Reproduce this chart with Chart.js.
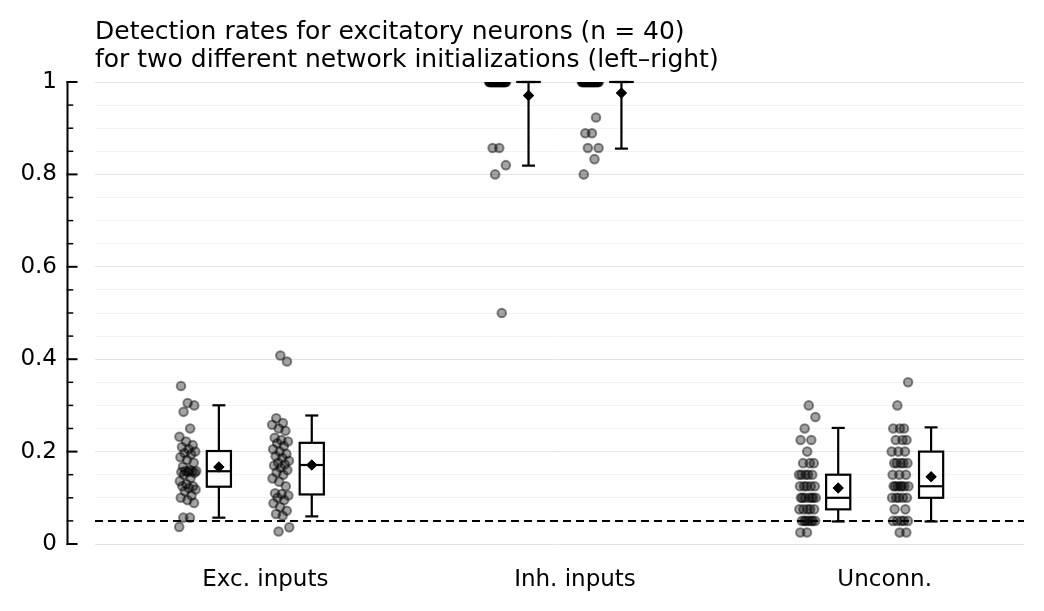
<!DOCTYPE html>
<html>
<head>
<meta charset="utf-8">
<script src="https://cdn.jsdelivr.net/npm/chart.js@4/dist/chart.umd.min.js"></script>
<style>
  html, body { margin: 0; background: #fff; }
  #wrap { width: 1044px; height: 611px; }
</style>
</head>
<body>
<div id="wrap"><canvas id="chart"></canvas></div>
<script>
// ── data ──
const categories = ['Exc. inputs', 'Inh. inputs', 'Unconn.'];
const titleLines = [
  'Detection rates for excitatory neurons (n = 40)',
  'for two different network initializations (left–right)'
];
const yTickLabels = [0, 0.2, 0.4, 0.6, 0.8, 1];
const chanceLevel = 0.05;

const excLeft = [0.037, 0.057, 0.057, 0.089, 0.095, 0.100, 0.105, 0.114, 0.118, 0.121,
  0.125, 0.125, 0.130, 0.136, 0.143, 0.150, 0.154, 0.156, 0.156, 0.157,
  0.158, 0.158, 0.160, 0.167, 0.176, 0.182, 0.188, 0.194, 0.197, 0.200,
  0.205, 0.210, 0.214, 0.222, 0.232, 0.250, 0.286, 0.300, 0.305, 0.342];
const excRight = [0.027, 0.036, 0.061, 0.065, 0.072, 0.080, 0.088, 0.095, 0.100, 0.105,
  0.108, 0.110, 0.125, 0.135, 0.142, 0.150, 0.155, 0.160, 0.165, 0.170,
  0.172, 0.176, 0.180, 0.186, 0.190, 0.195, 0.200, 0.205, 0.212, 0.218,
  0.222, 0.225, 0.230, 0.245, 0.250, 0.258, 0.262, 0.272, 0.395, 0.408];
const inhLeft = [0.500, 0.800, 0.820, 0.857, 0.857,
  1, 1, 1, 1, 1, 1, 1, 1, 1, 1, 1, 1, 1, 1, 1, 1, 1, 1,
  1, 1, 1, 1, 1, 1, 1, 1, 1, 1, 1, 1, 1, 1, 1, 1, 1];
const inhRight = [0.800, 0.833, 0.857, 0.857, 0.889, 0.889, 0.923,
  1, 1, 1, 1, 1, 1, 1, 1, 1, 1, 1, 1, 1, 1, 1, 1, 1,
  1, 1, 1, 1, 1, 1, 1, 1, 1, 1, 1, 1, 1, 1, 1, 1];
const unconnLeft = [0.025, 0.025,
  0.05, 0.05, 0.05, 0.05, 0.05, 0.05, 0.05,
  0.075, 0.075, 0.075, 0.075, 0.075,
  0.1, 0.1, 0.1, 0.1, 0.1, 0.1, 0.1,
  0.125, 0.125, 0.125, 0.125, 0.125,
  0.15, 0.15, 0.15, 0.15, 0.15,
  0.175, 0.175, 0.175, 0.2, 0.225, 0.225, 0.25, 0.275, 0.3];
const unconnRight = [0.025, 0.025,
  0.05, 0.05, 0.05, 0.05, 0.05,
  0.075, 0.075,
  0.1, 0.1, 0.1, 0.1, 0.1,
  0.125, 0.125, 0.125, 0.125, 0.125, 0.125, 0.125,
  0.15, 0.15, 0.15,
  0.175, 0.175, 0.175, 0.175, 0.175,
  0.2, 0.2, 0.2, 0.225, 0.225, 0.225,
  0.25, 0.25, 0.25, 0.3, 0.35];

// ── layout of the groups (x in category units) ──
const stripOffset = [-0.25, 0.05];
const boxOffset = [-0.15, 0.15];
const jitterWidth = 0.028;
const boxWidth = 0.078;
const capWidth = 0.042;

const groups = [
  { values: excLeft, cat: 0, side: 0 },
  { values: excRight, cat: 0, side: 1 },
  { values: inhLeft, cat: 1, side: 0 },
  { values: inhRight, cat: 1, side: 1 },
  { values: unconnLeft, cat: 2, side: 0 },
  { values: unconnRight, cat: 2, side: 1 }
];

const FONT = 'DejaVu Sans';

function quantile(sorted, q) {
  const pos = (sorted.length - 1) * q;
  const lo = Math.floor(pos), hi = Math.ceil(pos);
  return sorted[lo] + (sorted[hi] - sorted[lo]) * (pos - lo);
}
function stats(values) {
  const s = [...values].sort((a, b) => a - b);
  return {
    p5: quantile(s, 0.05), q1: quantile(s, 0.25), med: quantile(s, 0.5),
    q3: quantile(s, 0.75), p95: quantile(s, 0.95),
    mean: s.reduce((a, b) => a + b, 0) / s.length
  };
}
// deterministic spread so points don't sit on one column
function jitter(i, seed) {
  const f = (i * 0.6180339887 + seed * 0.371) % 1;
  return (f * 2 - 1) * jitterWidth;
}
const isMajor = v => yTickLabels.some(t => Math.abs(t - v) < 1e-6);

const stripSets = groups.map((g, gi) => ({
  type: 'scatter',
  data: g.values.map((v, i) => ({ x: g.cat + stripOffset[g.side] + jitter(i, gi), y: v })),
  backgroundColor: 'rgba(0,0,0,0.36)',
  borderColor: 'rgba(0,0,0,0.45)',
  borderWidth: 2,
  pointRadius: 4.3,
  order: 2
}));

const meanSet = {
  type: 'scatter',
  data: groups.map(g => ({ x: g.cat + boxOffset[g.side], y: stats(g.values).mean })),
  pointStyle: 'rectRot',
  pointRadius: 5.5,
  backgroundColor: '#000',
  borderColor: '#000',
  borderWidth: 0,
  order: 0
};

const chanceSet = {
  type: 'line',
  data: [{ x: -0.55, y: chanceLevel }, { x: 2.45, y: chanceLevel }],
  borderColor: '#000',
  borderWidth: 2,
  borderDash: [8, 5],
  pointRadius: 0,
  order: 3
};

// box + whiskers drawn through the scales
const boxPlugin = {
  id: 'boxes',
  afterDatasetsDraw(chart) {
    const { ctx, scales: { x, y } } = chart;
    ctx.save();
    ctx.strokeStyle = '#000';
    ctx.lineWidth = 2.2;
    const seg = (x1, y1, x2, y2) => { ctx.beginPath(); ctx.moveTo(x1, y1); ctx.lineTo(x2, y2); ctx.stroke(); };
    groups.forEach(g => {
      const s = stats(g.values);
      const bx = g.cat + boxOffset[g.side];
      const cx = x.getPixelForValue(bx);
      const bl = x.getPixelForValue(bx - boxWidth / 2), br = x.getPixelForValue(bx + boxWidth / 2);
      const cl = x.getPixelForValue(bx - capWidth / 2), cr = x.getPixelForValue(bx + capWidth / 2);
      const yq1 = y.getPixelForValue(s.q1), yq3 = y.getPixelForValue(s.q3);
      const yLo = y.getPixelForValue(s.p5), yHi = y.getPixelForValue(s.p95);
      seg(cx, yHi, cx, yq3);
      seg(cx, yq1, cx, yLo);
      seg(cl, yHi, cr, yHi);
      seg(cl, yLo, cr, yLo);
      ctx.strokeRect(bl, yq3, br - bl, yq1 - yq3);
      const ym = y.getPixelForValue(s.med);
      seg(bl, ym, br, ym);
    });
    // mean markers on top of the boxes
    const meta = chart.getDatasetMeta(0);
    meta.data.forEach(p => p.draw(ctx, chart.chartArea));
    ctx.restore();
  }
};

// offset left spine with inward ticks
const spinePlugin = {
  id: 'spine',
  afterDraw(chart) {
    const { ctx, chartArea, scales: { y } } = chart;
    const sx = chartArea.left - 27.5;
    ctx.save();
    ctx.strokeStyle = '#000';
    ctx.lineWidth = 2;
    ctx.lineCap = 'square';
    ctx.beginPath();
    ctx.moveTo(sx, y.getPixelForValue(y.max));
    ctx.lineTo(sx, y.getPixelForValue(y.min));
    ctx.stroke();
    y.ticks.forEach(t => {
      const py = y.getPixelForValue(t.value);
      const len = isMajor(t.value) ? 9 : 5;
      ctx.lineWidth = isMajor(t.value) ? 2 : 1.5;
      ctx.beginPath();
      ctx.moveTo(sx, py);
      ctx.lineTo(sx + len, py);
      ctx.stroke();
    });
    ctx.restore();
  }
};

new Chart(document.getElementById('chart'), {
  type: 'scatter',
  data: { datasets: [meanSet, ...stripSets, chanceSet] },
  options: {
    responsive: true,
    maintainAspectRatio: false,
    animation: false,
    layout: { padding: { top: 18, right: 20, bottom: 7, left: 0 } },
    plugins: {
      legend: { display: false },
      tooltip: { enabled: false },
      title: {
        display: true,
        text: titleLines,
        align: 'start',
        fullSize: false,
        color: '#000',
        font: { family: FONT, size: 25, weight: 'normal', lineHeight: 1.12 },
        padding: { top: 0, bottom: 8 }
      }
    },
    scales: {
      x: {
        type: 'linear',
        min: -0.55,
        max: 2.45,
        afterBuildTicks: s => { s.ticks = categories.map((c, i) => ({ value: i })); },
        afterFit: s => { s.height = 60; },
        ticks: {
          callback: v => categories[v],
          color: '#000',
          font: { family: FONT, size: 23 },
          padding: 14,
          maxRotation: 0
        },
        grid: { display: false },
        border: { display: false }
      },
      y: {
        min: 0,
        max: 1,
        afterFit: s => { s.width = 95; },
        ticks: {
          stepSize: 0.05,
          autoSkip: false,
          callback: v => { const m = yTickLabels.find(t => Math.abs(t - v) < 1e-6); return m === undefined ? '' : String(m); },
          color: '#000',
          font: { family: FONT, size: 23 },
          padding: 38
        },
        grid: {
          drawTicks: false,
          color: c => isMajor(c.tick.value) ? '#e4e4e4' : '#f3f3f3',
          lineWidth: 1
        },
        border: { display: false }
      }
    }
  },
  plugins: [boxPlugin, spinePlugin]
});
</script>
</body>
</html>
